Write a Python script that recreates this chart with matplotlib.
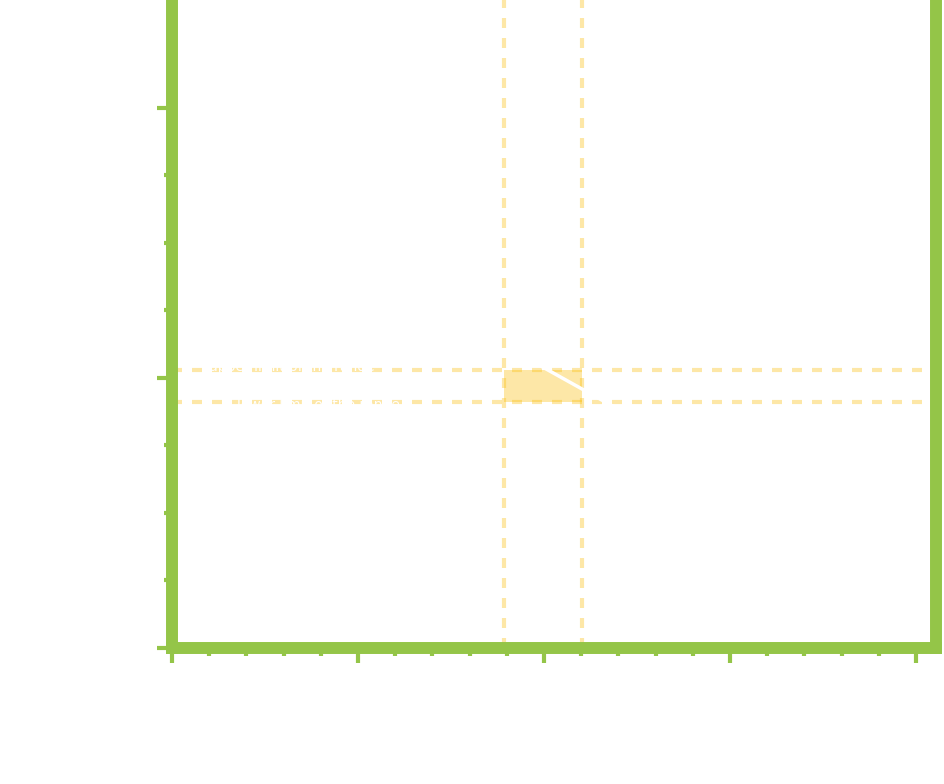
import matplotlib
matplotlib.use('Agg')
import matplotlib.pyplot as plt
from matplotlib.ticker import MultipleLocator, FixedLocator
from matplotlib.patches import Rectangle

# band limits (data units)
x_band = [1.785, 2.205]
y_band = [0.911, 1.030]
# white guide line through the band
guide_x = [1.95, 2.45]
guide_y = [1.057, 0.865]
# white labels (invisible on white, they only cut the dashes)
label_texts = ["upper limit of the range", "lower limit of the range"]
label_x = [0.2, 0.35]
y_minor = [0.25, 0.5, 0.75, 1.25, 1.5, 1.75]

xlim = (0, 4.108)
ylim = (0, 2.4)

green = '#94C548'
band_color = '#FBBC05'

fig = plt.figure(figsize=(9.44, 7.84), dpi=100)
ax = fig.add_axes([0.1822, 0.1735, 0.8093, 0.8265])

ax.set_xlim(*xlim)
ax.set_ylim(*ylim)

# shaded band + dashed limit lines
ax.add_patch(Rectangle((x_band[0], y_band[0]), x_band[1] - x_band[0],
                       y_band[1] - y_band[0], facecolor=band_color,
                       alpha=0.35, edgecolor='none', zorder=1))
for xv in x_band:
    ax.axvline(xv, color=band_color, alpha=0.35, linewidth=3,
               dashes=(2.4, 2.4), zorder=2)
for yv in y_band:
    ax.axhline(yv, color=band_color, alpha=0.35, linewidth=3,
               dashes=(2.4, 2.4), zorder=2)

ax.plot(guide_x, guide_y, color='white', linewidth=2.5, zorder=3)

ax.text(label_x[0], y_band[1] + 0.01, label_texts[0], color='white',
        fontsize=10, va='center', zorder=3)
ax.text(label_x[1], y_band[0] - 0.01, label_texts[1], color='white',
        fontsize=10, va='center', zorder=3)

# spines
for side in ['left', 'bottom', 'right']:
    ax.spines[side].set_color(green)
    ax.spines[side].set_linewidth(8.6)
ax.spines['top'].set_visible(False)

ax.xaxis.set_major_locator(MultipleLocator(1))
ax.xaxis.set_minor_locator(MultipleLocator(0.2))
ax.yaxis.set_major_locator(MultipleLocator(1))
ax.yaxis.set_minor_locator(FixedLocator(y_minor))
ax.tick_params(which='major', length=11, width=3, color=green,
               labelcolor='white', direction='out')
ax.tick_params(which='minor', length=6, width=3, color=green,
               direction='out')
ax.tick_params(top=False, right=False, which='both')

fig.savefig('out.png', dpi=100)
